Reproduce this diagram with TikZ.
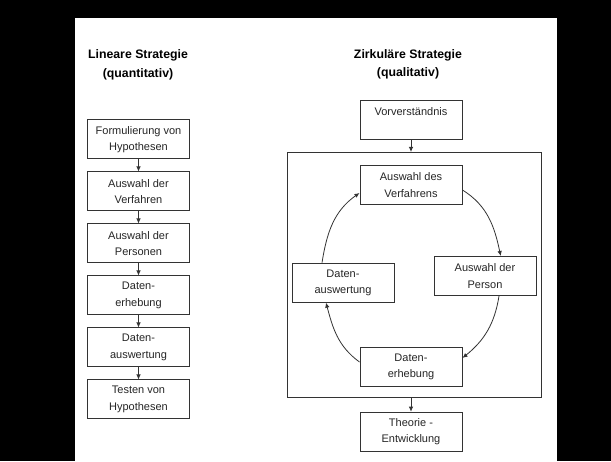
\documentclass[tikz,border=0pt]{standalone}
\usepackage{fontspec}
\setmainfont{Liberation Sans}
\usetikzlibrary{arrows.meta}
\begin{document}
\begin{tikzpicture}[x=1pt,y=1pt,
  box/.style={draw=black!80, line width=1pt, fill=white, minimum width=102pt, minimum height=39pt, inner sep=0pt, align=center, font=\fontsize{11}{16.5}\selectfont, text=black!85},
  ttl/.style={align=center, font=\fontsize{12.3}{18.5}\selectfont\bfseries, text=black},
  arr/.style={draw=black!80, line width=0.8pt, -{Latex[length=5pt,width=4.5pt]}},
  frm/.style={draw=black!80, line width=1pt, minimum width=254pt, minimum height=245pt, inner sep=0pt}]
\fill[black] (0,0) rectangle (611,461);
\fill[white] (75,0) rectangle (557,443);
\useasboundingbox (0,0) rectangle (611,461);
% titles
\node[ttl] (tl) at (138,396) {Lineare Strategie\\(quantitativ)};
\node[ttl] (tr) at (408,396.5) {Zirkuläre Strategie\\(qualitativ)};
% left column
\node[box] (l1) at (138.5,321.5) {Formulierung von\\Hypothesen};
\node[box] (l2) at (138.5,269.5) {Auswahl der\\Verfahren};
\node[box] (l3) at (138.5,217.5) {Auswahl der\\Personen};
\node[box] (l4) at (138.5,165.5) {Daten-\\erhebung};
\node[box] (l5) at (138.5,113.5) {Daten-\\auswertung};
\node[box] (l6) at (138.5,61.5) {Testen von\\Hypothesen};
\draw[arr] (l1) -- (l2);
\draw[arr] (l2) -- (l3);
\draw[arr] (l3) -- (l4);
\draw[arr] (l4) -- (l5);
\draw[arr] (l5) -- (l6);
% right column
\node[frm] (frame) at (414.2,186) {};
\node[box] (vv) at (411,341) {Vorverständnis\\~};
\node[box] (avf) at (411,276) {Auswahl des\\Verfahrens};
\node[box] (adp) at (485,185) {Auswahl der\\Person};
\node[box] (daw) at (343,178.3) {Daten-\\auswertung};
\node[box] (deh) at (411,94) {Daten-\\erhebung};
\node[box] (th) at (411,29.3) {Theorie -\\Entwicklung};
\draw[arr] (vv.south) -- (vv.south |- frame.north);
\draw[arr] (frame.south -| th.north) -- (th.north);
\draw[arr] ([yshift=-5pt]avf.east) to[out=-32,in=102] ([xshift=15.7pt]adp.north);
\draw[arr] ([xshift=14pt]adp.south) to[out=-99,in=39] ([yshift=9pt]deh.east);
\draw[arr] ([yshift=5pt]deh.west) to[out=144,in=-75] ([xshift=-17pt]daw.south);
\draw[arr] ([xshift=-21pt]daw.north) to[out=81,in=215] ([yshift=-8pt]avf.west);
\end{tikzpicture}
\end{document}
